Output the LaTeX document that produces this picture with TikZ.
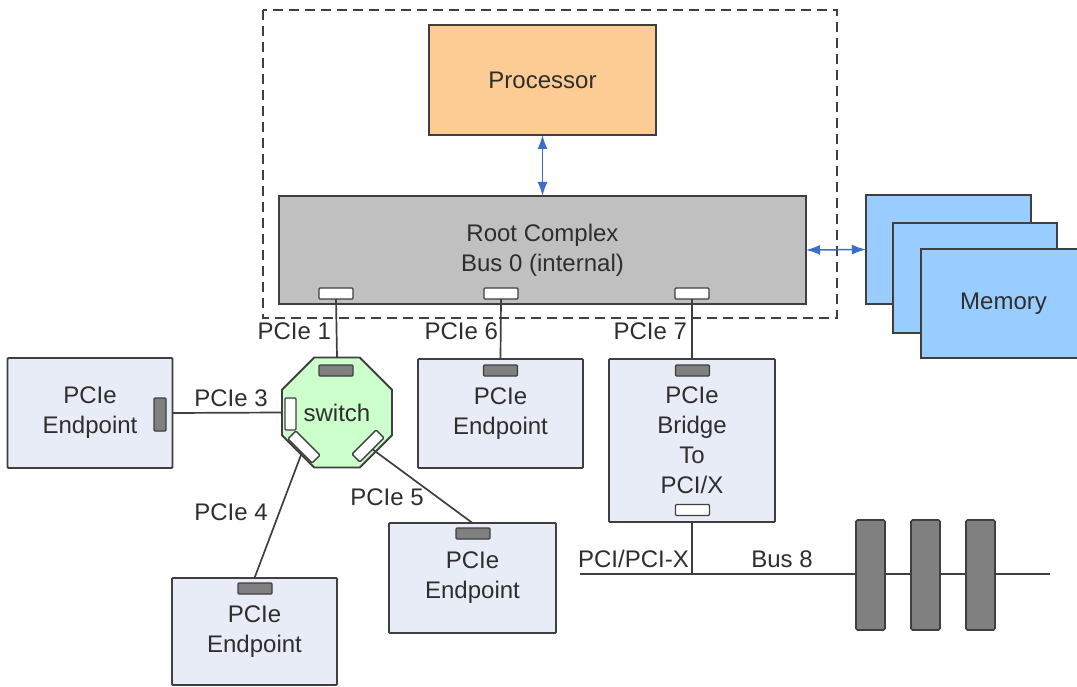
\documentclass[tikz,border=0pt]{standalone}
\usepackage{fontspec}
\setmainfont{Liberation Sans}
\usetikzlibrary{shapes.geometric,arrows.meta}
\definecolor{edge}{HTML}{3F3F3F}
\definecolor{txt}{HTML}{2E2E2E}
\definecolor{epfill}{HTML}{E8ECF6}
\definecolor{procfill}{HTML}{FDCB94}
\definecolor{rcfill}{HTML}{C0C0C0}
\definecolor{memfill}{HTML}{99CCFF}
\definecolor{swfill}{HTML}{CCFFCC}
\definecolor{portgray}{HTML}{808080}
\definecolor{arrowblue}{HTML}{3A6EC8}
\begin{document}
\begin{tikzpicture}[x=1pt,y=-1pt,
  every node/.style={font=\fontsize{24}{30}\selectfont, text=txt, inner sep=0pt, outer sep=0pt},
  box/.style={draw=edge, line width=1.8pt, align=center},
  epbox/.style={box, fill=epfill, rounded corners=1pt},
  gport/.style={draw=edge, line width=1.4pt, fill=portgray, minimum width=34pt, minimum height=11pt, rounded corners=1pt},
  wport/.style={draw=edge, line width=1.4pt, fill=white, minimum width=34pt, minimum height=11pt, rounded corners=1pt},
  slot/.style={draw=edge, line width=1.6pt, fill=portgray, minimum width=29pt, minimum height=110pt, rounded corners=1.5pt},
  wire/.style={draw=edge, line width=1.7pt},
  biarrow/.style={draw=arrowblue, line width=1.5pt, arrows={Latex[length=14pt,width=10pt]-Latex[length=14pt,width=10pt]}},
]
\useasboundingbox (0,0) rectangle (1077,687);
\clip (0,0) rectangle (1077,687);

% host dashed region
\draw[draw=edge, line width=1.6pt, dash pattern=on 10pt off 6pt] (263,10) rectangle (837,318);

% processor and root complex
\node[box, fill=procfill, minimum width=227pt, minimum height=110pt] (proc) at (542.5,80) {Processor};
\node[box, fill=rcfill, minimum width=527pt, minimum height=108pt] (rc) at (542.5,250) {Root Complex\\Bus 0 (internal)};
\node[wport] (rp1) at (336,293.5) {};
\node[wport] (rp2) at (501,293.5) {};
\node[wport] (rp3) at (692,293.5) {};

% memory stack
\node[box, fill=memfill, minimum width=165pt, minimum height=109pt] (mem1) at (948.5,249.5) {};
\node[box, fill=memfill, minimum width=164pt, minimum height=110pt] (mem2) at (975,278) {};
\node[box, fill=memfill, minimum width=165pt, minimum height=109pt] (mem3) at (1003.5,303.5) {Memory};

\draw[biarrow] (proc.south) -- (rc.north);
\draw[biarrow] (rc.east) -- (mem1.west);

% switch
\node[draw=edge, line width=1.8pt, fill=swfill, regular polygon, regular polygon sides=8, minimum size=119pt] (sw) at (337,412.5) {switch};
\node[gport] (swt) at (336,370.5) {};
\node[wport, minimum width=11pt, minimum height=32pt] (swl) at (290.5,414) {};
\node[wport, rotate=-45] (swll) at (304,447) {};
\node[wport, rotate=45] (swlr) at (368,446) {};

% endpoints
\node[epbox, minimum width=165pt, minimum height=110pt] (ep3) at (90,413) {PCIe\\Endpoint};
\node[gport, minimum width=12pt, minimum height=33pt] (ep3p) at (160,414.5) {};

\node[epbox, minimum width=165pt, minimum height=109pt] (ep6) at (500.5,413.5) {PCIe\\Endpoint};
\node[gport] (ep6p) at (500.5,370.5) {};

\node[epbox, minimum width=166pt, minimum height=163pt] (br) at (692,440.5) {PCIe\\Bridge\\To\\PCI/X};
\node[gport] (brp) at (692.5,370.5) {};
\node[wport] (brb) at (692.5,510) {};

\node[epbox, minimum width=167pt, minimum height=110pt] (ep5) at (472.5,578) {PCIe\\Endpoint};
\node[gport] (ep5p) at (473,533.5) {};

\node[epbox, minimum width=165pt, minimum height=107pt] (ep4) at (254.5,631.5) {PCIe\\Endpoint};
\node[gport] (ep4p) at (255,588.5) {};

% links
\draw[wire] (rp1.south) -- (sw.north);
\draw[wire] (rp2.south) -- (ep6.north);
\draw[wire] (rp3.south) -- (br.north);
\draw[wire] (ep3.east) -- (sw.west);
\draw[wire] (swll) -- (ep4.north);
\draw[wire] (swlr) -- (ep5.north);

% PCI bus
\coordinate (busL) at (580,574);
\coordinate (busR) at (1050,574);
\coordinate (busT) at (br.south |- busL);
\draw[wire] (busL) -- (busR);
\draw[wire] (br.south) -- (busT);
\node[slot] (s1) at (870.5,575) {};
\node[slot] (s2) at (925.5,575) {};
\node[slot] (s3) at (980.5,575) {};

% labels
\node[anchor=east] (l1) at (331,331) {PCIe 1};
\node[anchor=east] (l6) at (498,331) {PCIe 6};
\node[anchor=east] (l7) at (687,331) {PCIe 7};
\node (l3) at (231,398) {PCIe 3};
\node (l4) at (231,512) {PCIe 4};
\node (l5) at (387,497) {PCIe 5};
\node (lpci) at (633.5,559) {PCI/PCI-X};
\node (lbus) at (782,559) {Bus 8};
\end{tikzpicture}
\end{document}
